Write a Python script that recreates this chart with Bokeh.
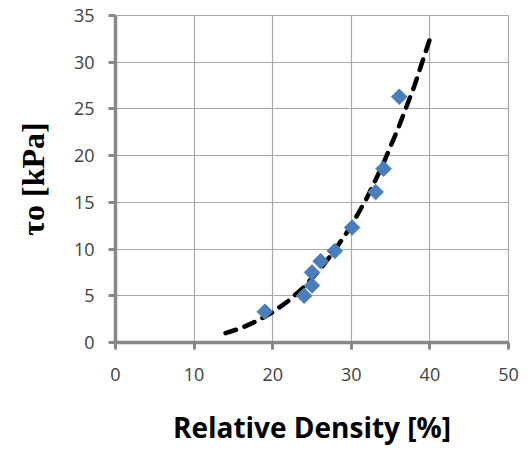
import math
from bokeh.plotting import figure
from bokeh.models import Range1d, FixedTicker
from bokeh.embed import file_html
from bokeh.resources import INLINE

# Measured points
density = [19.0, 24.0, 25.0, 25.0, 26.1, 27.9, 30.1, 33.1, 34.1, 36.1]
tau0 = [3.3, 5.0, 6.1, 7.5, 8.7, 9.8, 12.3, 16.1, 18.6, 26.3]

# Trend line
trend_x = [14, 16, 18, 20, 22, 24, 26, 28, 30, 32, 34, 36, 38, 40]
trend_y = [1.0, 1.55, 2.3, 3.25, 4.45, 5.95, 7.8, 10.0, 12.5, 15.5, 19.0, 23.0, 27.4, 32.5]

x_ticks = [0, 10, 20, 30, 40, 50]
y_ticks = [0, 5, 10, 15, 20, 25, 30, 35]

p = figure(width=522, height=444, output_backend="svg", toolbar_location=None,
           x_range=Range1d(0, 50), y_range=Range1d(0, 35),
           min_border_left=115, min_border_top=15, min_border_right=14, min_border_bottom=102)
p.frame_width = 393
p.frame_height = 327

grid_col = "#a8a8a8"
axis_col = "#878787"
for ax, ticks in ((p.xaxis, x_ticks), (p.yaxis, y_ticks)):
    ax.ticker = FixedTicker(ticks=ticks)
    ax.axis_line_color = axis_col
    ax.axis_line_width = 3.5
    ax.major_tick_line_color = axis_col
    ax.major_tick_line_width = 3
    ax.major_tick_out = 7
    ax.major_tick_in = 0
    ax.minor_tick_line_color = None
    ax.major_label_text_font = "Open Sans"
    ax.major_label_text_font_size = "18px"
    ax.major_label_text_color = "#404040"

p.xaxis.major_label_standoff = 18
p.yaxis.major_label_standoff = 14

p.xaxis.axis_label = "Relative Density [%]"
p.xaxis.axis_label_text_font = "Open Sans"
p.xaxis.axis_label_text_font_style = "bold"
p.xaxis.axis_label_text_font_size = "28px"
p.xaxis.axis_label_text_color = "#000000"
p.xaxis.axis_label_standoff = 24

p.yaxis.axis_label = "τo [kPa]"
p.yaxis.axis_label_text_font = "Liberation Serif"
p.yaxis.axis_label_text_font_style = "bold"
p.yaxis.axis_label_text_font_size = "32px"
p.yaxis.axis_label_text_color = "#000000"
p.yaxis.axis_label_standoff = 20

p.xgrid.grid_line_color = grid_col
p.ygrid.grid_line_color = grid_col
p.xgrid.grid_line_width = 1.2
p.ygrid.grid_line_width = 1.2
p.outline_line_color = grid_col
p.outline_line_width = 1.2
p.background_fill_color = "white"
p.border_fill_color = "white"

p.line(trend_x, trend_y, line_color="black", line_width=4.5, line_dash="11 9",
       line_cap="round")
p.scatter(density, tau0, marker="square", size=11, angle=math.pi / 4,
          fill_color="#4a7ebb", line_color="#4a7ebb")

open("out.html", "w").write(file_html(p, INLINE))
